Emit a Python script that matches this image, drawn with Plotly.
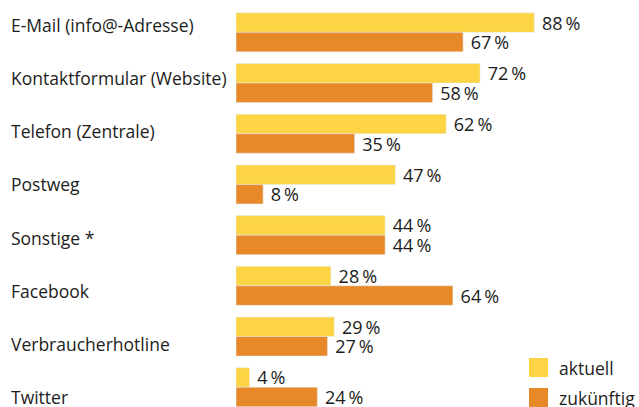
import plotly.graph_objects as go

categories = ["E-Mail (info@-Adresse)", "Kontaktformular (Website)", "Telefon (Zentrale)",
              "Postweg", "Sonstige *", "Facebook", "Verbraucherhotline", "Twitter"]
aktuell = [88, 72, 62, 47, 44, 28, 29, 4]
zukuenftig = [67, 58, 35, 8, 44, 64, 27, 24]
series_names = ["aktuell", "zukünftig"]

YELLOW = "#FDD443"
ORANGE = "#E78929"
TXT = "#1d1d1b"
FONT = "Open Sans"
FS_LAB = 17.5
FS_VAL = 18

fig = go.Figure()
for vals, col, nm in [(aktuell, YELLOW, series_names[0]), (zukuenftig, ORANGE, series_names[1])]:
    fig.add_trace(go.Bar(y=categories, x=vals, orientation="h", marker_color=col,
                         name=nm, text=vals, texttemplate=" %{x}\u2009%",
                         textposition="outside", constraintext="none",
                         textfont=dict(family=FONT, size=FS_VAL, color=TXT),
                         showlegend=False))

annotations = []
for i, c in enumerate(categories):
    annotations.append(dict(x=0, xref="paper", xshift=-227, xanchor="left",
                            y=c, yref="y", yshift=7.5 - 2.5 * i, yanchor="middle",
                            text=c, showarrow=False,
                            font=dict(family=FONT, size=FS_LAB, color=TXT)))

# legend (manual)
shapes = []
leg_colors = [YELLOW, ORANGE]
for k, (nm, col) in enumerate(zip(series_names, leg_colors)):
    y0 = 358 + k * 30
    shapes.append(dict(type="rect", xref="paper", yref="paper",
                       x0=(529 - 236) / 403, x1=(548 - 236) / 403,
                       y0=1 - (y0 + 19 - 7) / 400, y1=1 - (y0 - 7) / 400,
                       fillcolor=col, line_width=0, layer="above"))
    annotations.append(dict(x=(557 - 236) / 403, xref="paper", xanchor="left",
                            y=1 - (y0 + 9.5 - 7) / 400, yref="paper", yanchor="middle",
                            text=nm, showarrow=False,
                            font=dict(family=FONT, size=FS_LAB, color=TXT)))

fig.update_layout(
    width=639, height=407,
    margin=dict(l=236, r=0, t=7, b=0),
    paper_bgcolor="white", plot_bgcolor="white",
    barmode="group", bargap=0.23, bargroupgap=0,
    xaxis=dict(range=[0, 118.9], visible=False),
    yaxis=dict(categoryorder="array", categoryarray=categories,
               range=[7.39, -0.5], showticklabels=False, showgrid=False,
               zeroline=False, showline=False, ticks=""),
    annotations=annotations, shapes=shapes,
)
fig.write_html("out.html")
